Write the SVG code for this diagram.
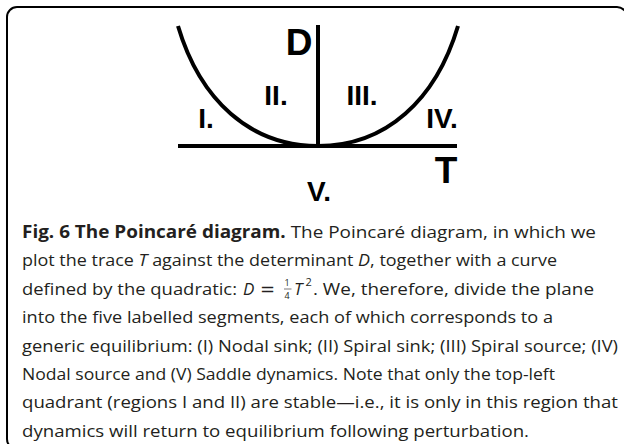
<svg xmlns="http://www.w3.org/2000/svg" width="624" height="444" viewBox="0 0 624 444">
  <style>
    .ln { fill: none; stroke: #000; stroke-width: 4; }
    .lab { font-family: "Liberation Sans", Arial, sans-serif; font-weight: bold; fill: #000; text-anchor: middle; }
    .cap { font-family: "Open Sans", "Noto Sans", sans-serif; font-size: 17px; fill: #231f20; }
    .b { font-weight: bold; }
    .i { font-style: italic; }
  </style>
  <rect id="frame" x="7" y="7" width="620" height="442" rx="10" ry="10" fill="#fff" stroke="#000" stroke-width="2"/>
  <g id="diagram">
    <g id="axes">
      <line class="ln" x1="178" y1="146" x2="457" y2="146"/>
      <line class="ln" x1="318" y1="25" x2="318" y2="148" stroke-width="3.5"/>
    </g>
    <path id="curve" class="ln" d="M178,26 C200,100 250,146 318,146 C386,146 436,100 458,26"/>
    <g id="labels">
      <text class="lab" x="299" y="55" font-size="37">D</text>
      <text class="lab" x="446" y="183" font-size="37">T</text>
      <text class="lab" x="206" y="128" font-size="28">I.</text>
      <text class="lab" x="276" y="105" font-size="28">II.</text>
      <text class="lab" x="362" y="105" font-size="28">III.</text>
      <text class="lab" x="442" y="128" font-size="28">IV.</text>
      <text class="lab" x="319" y="201" font-size="28">V.</text>
    </g>
  </g>
  <g id="caption" class="cap">
    <text x="22" y="238" textLength="574" lengthAdjust="spacingAndGlyphs"><tspan class="b">Fig. 6 The Poincaré diagram.</tspan> The Poincaré diagram, in which we</text>
    <text x="22" y="266.4" textLength="535" lengthAdjust="spacingAndGlyphs">plot the trace <tspan class="i">T</tspan> against the determinant <tspan class="i">D</tspan>, together with a curve</text>
    <text x="22" y="294.8" textLength="215" lengthAdjust="spacingAndGlyphs">defined by the quadratic:</text>
    <text class="i" x="243" y="294.8">D</text>
    <text x="260" y="294.8" font-family="DejaVu Sans, sans-serif" font-size="18">=</text>
    <text x="284.5" y="286" font-size="9">1</text>
    <line x1="284" y1="289" x2="291.5" y2="289" stroke="#231f20" stroke-width="0.6"/>
    <text x="284.5" y="299" font-size="9">4</text>
    <text class="i" x="294" y="294.8">T</text>
    <text x="305.5" y="286" font-size="11">2</text>
    <text x="313" y="294.8" textLength="281" lengthAdjust="spacingAndGlyphs">. We, therefore, divide the plane</text>
    <text x="22" y="323.2" textLength="531" lengthAdjust="spacingAndGlyphs">into the five labelled segments, each of which corresponds to a</text>
    <text x="22" y="351.6" textLength="596" lengthAdjust="spacingAndGlyphs">generic equilibrium: (I) Nodal sink; (II) Spiral sink; (III) Spiral source; (IV)</text>
    <text x="22" y="380" textLength="533" lengthAdjust="spacingAndGlyphs">Nodal source and (V) Saddle dynamics. Note that only the top-left</text>
    <text x="22" y="408.4" textLength="596" lengthAdjust="spacingAndGlyphs">quadrant (regions I and II) are stable—i.e., it is only in this region that</text>
    <text x="22" y="436.8" textLength="507" lengthAdjust="spacingAndGlyphs">dynamics will return to equilibrium following perturbation.</text>
  </g>
</svg>
